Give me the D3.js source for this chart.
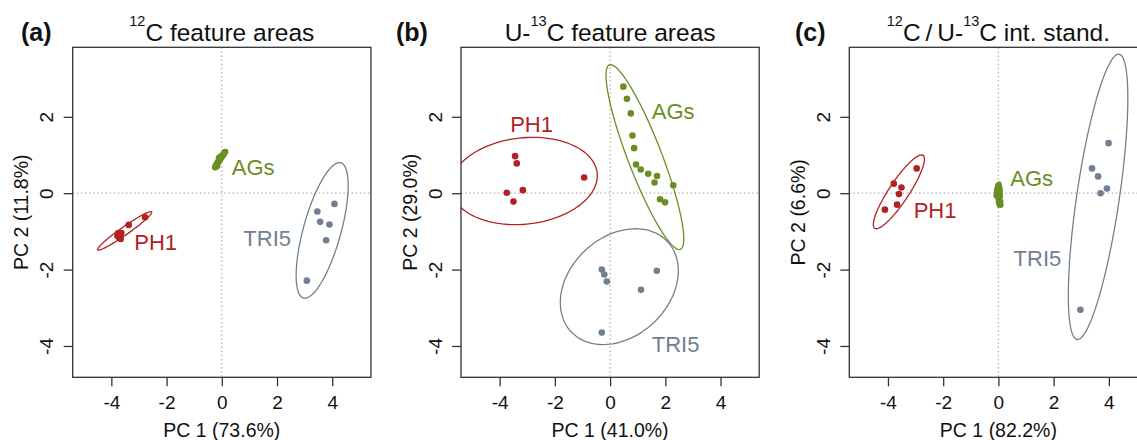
<!DOCTYPE html>
<html>
<head>
<meta charset="utf-8">
<script src="https://cdn.jsdelivr.net/npm/d3@7"></script>
<style>
  body { margin: 0; background: #fff; }
  svg { display: block; font-family: "Liberation Sans", Arial, sans-serif; }
</style>
</head>
<body>
<svg id="chart" width="1137" height="440"></svg>
<script>
const groups = ["PH1", "AGs", "TRI5"];
const colors = { PH1: "#b22222", AGs: "#6b8e23", TRI5: "#708090" };
const xTicks = [-4, -2, 0, 2, 4];
const yTicks = [-4, -2, 0, 2];
const xDomain = [-5.4, 5.4];
const yDomain = [-4.82, 3.82];

const panelTags = ["(a)", "(b)", "(c)"];
const xTitles = ["PC 1 (73.6%)", "PC 1 (41.0%)", "PC 1 (82.2%)"];
const yTitles = ["PC 2 (11.8%)", "PC 2 (29.0%)", "PC 2 (6.6%)"];

// panel (a): 12C feature areas
const aPH1 = [[-2.78, -0.63], [-3.37, -0.83], [-3.76, -1.05], [-3.70, -1.08], [-3.64, -1.04],
  [-3.72, -1.16], [-3.78, -1.12], [-3.66, -1.20]];
const aAGs = [[-0.24, 0.68], [-0.21, 0.73], [-0.18, 0.76], [-0.15, 0.80], [-0.12, 0.83], [-0.09, 0.86],
  [-0.06, 0.90], [-0.03, 0.93], [0.00, 0.96], [0.04, 1.00], [0.08, 1.04], [0.12, 1.08],
  [-0.17, 0.71], [-0.05, 0.95], [-0.10, 0.92]];
const aTRI5 = [[4.08, -0.28], [3.46, -0.48], [3.56, -0.75], [3.90, -0.82], [3.78, -1.23], [3.08, -2.29]];
const aEllipses = [
  { group: "PH1", cx: -3.515, cy: -0.985, ux: 0.975, uy: 0.495, vx: 0.083, vy: -0.086 },
  { group: "AGs", cx: -0.06, cy: 0.89, ux: 0.24, uy: 0.25, vx: 0.074, vy: -0.037 },
  { group: "TRI5", cx: 3.635, cy: -0.975, ux: 0.675, uy: 1.77, vx: 0.657, vy: -0.131 }
];
const aLabels = [{ group: "AGs", x: 0.36, y: 0.67 }, { group: "PH1", x: -3.17, y: -1.30 }, { group: "TRI5", x: 0.78, y: -1.18 }];

// panel (b): U-13C feature areas
const bPH1 = [[-3.44, 0.97], [-3.38, 0.78], [-0.94, 0.41], [-3.74, 0.01], [-3.16, 0.08], [-3.50, -0.22]];
const bAGs = [[0.48, 2.79], [0.61, 2.47], [0.75, 2.09], [0.81, 1.51], [0.87, 1.18], [0.94, 0.75],
  [1.11, 0.62], [1.38, 0.51], [1.70, 0.45], [1.61, 0.28], [2.29, 0.21], [1.81, -0.16], [1.99, -0.24]];
const bTRI5 = [[-0.30, -2.00], [-0.21, -2.13], [-0.12, -2.31], [1.69, -2.03], [1.12, -2.53], [-0.30, -3.65]];
const bEllipses = [
  { group: "PH1", cx: -3.12, cy: 0.32, ux: 2.65, uy: 0.21, vx: 0.172, vy: -1.123 },
  { group: "AGs", cx: 1.26, cy: 0.945, ux: -1.285, uy: 2.415, vx: 0.575, vy: 0.159 },
  { group: "TRI5", cx: 0.333, cy: -2.447, ux: 1.743, uy: 1.182, vx: 1.236, vy: -0.949 }
];
const bLabels = [{ group: "PH1", x: -3.62, y: 1.81 }, { group: "AGs", x: 1.51, y: 2.13 }, { group: "TRI5", x: 1.51, y: -3.97 }];

// panel (c): 12C / U-13C internal standard
const cPH1 = [[-2.96, 0.65], [-3.79, 0.25], [-3.51, 0.15], [-3.60, -0.02], [-3.67, -0.30], [-4.11, -0.43]];
const cAGs = [[0.00, 0.20], [-0.03, 0.12], [0.04, 0.10], [-0.05, 0.04], [0.03, 0.02], [0.00, -0.02],
  [-0.06, -0.06], [0.05, -0.07], [0.02, -0.12], [0.06, -0.22], [0.07, -0.30], [-0.02, 0.07]];
const cTRI5 = [[3.99, 1.31], [3.39, 0.65], [3.61, 0.44], [3.93, 0.12], [3.70, 0.00], [2.97, -3.05]];
const cEllipses = [
  { group: "PH1", cx: -3.605, cy: 0.035, ux: 0.875, uy: 0.955, vx: 0.30, vy: -0.144 },
  { group: "AGs", cx: 0.02, cy: -0.03, ux: 0.02, uy: 0.33, vx: 0.10, vy: 0.0 },
  { group: "TRI5", cx: 3.61, cy: -0.095, ux: 0.76, uy: 3.735, vx: 0.764, vy: -0.081 }
];
const cLabels = [{ group: "AGs", x: 0.43, y: 0.39 }, { group: "PH1", x: -3.07, y: -0.45 }, { group: "TRI5", x: 0.55, y: -1.72 }];

const panels = [
  { pts: { PH1: aPH1, AGs: aAGs, TRI5: aTRI5 }, ell: aEllipses, labels: aLabels,
    left: 72.7, tagX: 21,
    title: [["12", true], ["C feature areas", false]] },
  { pts: { PH1: bPH1, AGs: bAGs, TRI5: bTRI5 }, ell: bEllipses, labels: bLabels,
    left: 461, tagX: 396,
    title: [["U-", false], ["13", true], ["C feature areas", false]] },
  { pts: { PH1: cPH1, AGs: cAGs, TRI5: cTRI5 }, ell: cEllipses, labels: cLabels,
    left: 849.3, tagX: 795,
    title: [["12", true], ["C", false], ["\u2009/\u2009", false], ["U-", false], ["13", true], ["C int. stand.", false]] }
];

const svg = d3.select("#chart");
const plotTop = 47.3, plotBottom = 377.3, plotW = 298.2;

panels.forEach((p, i) => {
  const left = p.left, right = left + plotW;
  const x = d3.scaleLinear().domain(xDomain).range([left, right]);
  const y = d3.scaleLinear().domain(yDomain).range([plotBottom, plotTop]);
  const cx = (left + right) / 2;

  const clipId = "clip" + i;
  svg.append("clipPath").attr("id", clipId)
    .append("rect").attr("x", left).attr("y", plotTop)
    .attr("width", plotW).attr("height", plotBottom - plotTop);

  const g = svg.append("g").attr("clip-path", "url(#" + clipId + ")");

  // dotted zero lines
  g.append("line")
    .attr("x1", x(0)).attr("x2", x(0)).attr("y1", plotTop).attr("y2", plotBottom)
    .attr("stroke", "#b0b0b0").attr("stroke-width", 1.3).attr("stroke-dasharray", "1.5,2.6");
  g.append("line")
    .attr("x1", left).attr("x2", right).attr("y1", y(0)).attr("y2", y(0))
    .attr("stroke", "#b0b0b0").attr("stroke-width", 1.3).attr("stroke-dasharray", "1.5,2.6");

  // confidence ellipses
  const angles = d3.range(0, 121).map(k => 2 * Math.PI * k / 120);
  const line = d3.line().x(d => x(d[0])).y(d => y(d[1])).curve(d3.curveLinearClosed);
  p.ell.forEach(e => {
    const path = angles.map(t => [
      e.cx + e.ux * Math.cos(t) + e.vx * Math.sin(t),
      e.cy + e.uy * Math.cos(t) + e.vy * Math.sin(t)
    ]);
    g.append("path").attr("d", line(path))
      .attr("fill", "none").attr("stroke", colors[e.group]).attr("stroke-width", 1.3);
  });

  // points
  groups.forEach(grp => {
    g.selectAll(null).data(p.pts[grp]).enter().append("circle")
      .attr("cx", d => x(d[0])).attr("cy", d => y(d[1]))
      .attr("r", 3.3).attr("fill", colors[grp]);
  });

  // group labels
  p.labels.forEach(l => {
    svg.append("text")
      .attr("x", x(l.x)).attr("y", y(l.y))
      .attr("dominant-baseline", "central")
      .attr("font-size", 22).attr("fill", colors[l.group])
      .text(l.group);
  });

  // box
  svg.append("rect").attr("x", left).attr("y", plotTop)
    .attr("width", plotW).attr("height", plotBottom - plotTop)
    .attr("fill", "none").attr("stroke", "#333").attr("stroke-width", 1.3);

  // axes
  const xAxis = svg.append("g").attr("transform", "translate(0," + plotBottom + ")")
    .call(d3.axisBottom(x).tickValues(xTicks).tickSize(9).tickSizeOuter(0).tickFormat(d => String(d)));
  xAxis.select(".domain").remove();
  xAxis.selectAll("line").attr("stroke", "#333").attr("stroke-width", 1.3);
  xAxis.selectAll("text").attr("y", 32).attr("dy", null)
    .attr("font-size", 19).attr("fill", "#111").attr("font-family", null);

  const yAxis = svg.append("g").attr("transform", "translate(" + left + ",0)")
    .call(d3.axisLeft(y).tickValues(yTicks).tickSize(9).tickSizeOuter(0).tickFormat(d => String(d)));
  yAxis.select(".domain").remove();
  yAxis.selectAll("line").attr("stroke", "#333").attr("stroke-width", 1.3);
  yAxis.selectAll("text")
    .attr("x", 0).attr("y", -19.4).attr("dy", null)
    .attr("transform", "rotate(-90)")
    .attr("text-anchor", "middle")
    .attr("font-size", 19).attr("fill", "#111").attr("font-family", null);

  // axis titles
  svg.append("text").attr("x", cx).attr("y", 437)
    .attr("text-anchor", "middle").attr("font-size", 19.5).attr("fill", "#111")
    .text(xTitles[i]);
  svg.append("text")
    .attr("transform", "translate(" + (left - 44.4) + "," + ((plotTop + plotBottom) / 2) + ") rotate(-90)")
    .attr("text-anchor", "middle").attr("font-size", 19.5).attr("fill", "#111")
    .text(yTitles[i]);

  // panel tag
  svg.append("text").attr("x", p.tagX).attr("y", 40.5)
    .attr("font-size", 25).attr("font-weight", "bold").attr("fill", "#111")
    .text(panelTags[i]);

  // title with superscripts
  const title = svg.append("text").attr("x", cx).attr("y", 40.7)
    .attr("text-anchor", "middle").attr("font-size", 24.5).attr("fill", "#111");
  let raised = false;
  p.title.forEach(([s, sup]) => {
    const ts = title.append("tspan").text(s);
    if (sup && !raised) { ts.attr("font-size", 14.5).attr("dy", -14.5); raised = true; }
    else if (!sup && raised) { ts.attr("dy", 14.5); raised = false; }
    else if (sup) ts.attr("font-size", 14.5);
  });
});
</script>
</body>
</html>
